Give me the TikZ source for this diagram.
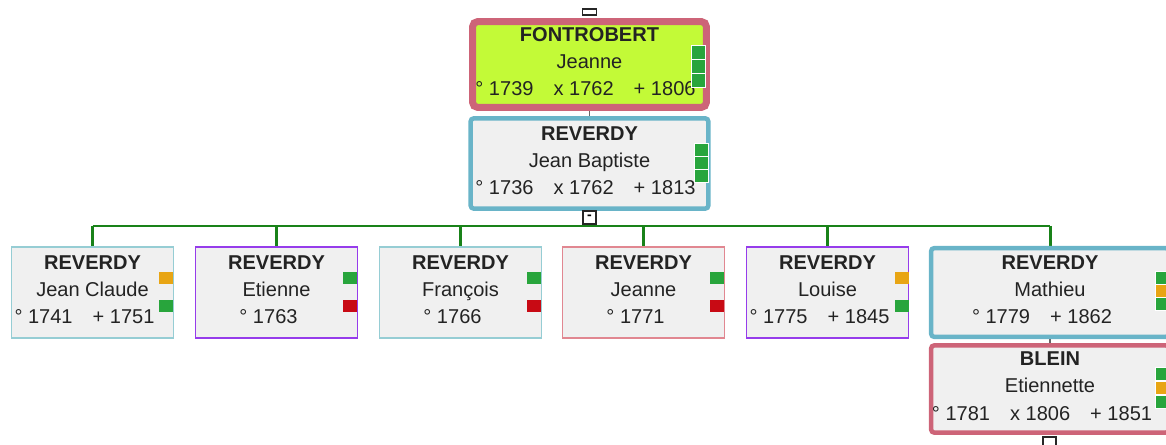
\documentclass[tikz,border=0pt]{standalone}
\usepackage{fontspec}
\setmainfont{Liberation Sans}
\usetikzlibrary{positioning,backgrounds}

\definecolor{famgreen}{RGB}{40,165,60}
\definecolor{famorange}{RGB}{232,165,20}
\definecolor{famred}{RGB}{200,10,20}
\definecolor{linegreen}{RGB}{25,130,25}
\definecolor{tealthick}{RGB}{105,180,200}
\definecolor{tealthin}{RGB}{150,205,212}
\definecolor{purpleline}{RGB}{150,60,235}
\definecolor{pinkthin}{RGB}{225,135,145}
\definecolor{pinkthick}{RGB}{205,100,120}
\definecolor{limefill}{RGB}{195,250,55}
\definecolor{boxgray}{RGB}{240,240,240}
\definecolor{textdark}{RGB}{35,35,35}

\newcommand{\dgap}{\hspace{1em}}
% date line, set a little left of the centre
\newcommand{\dline}[2][0.32cm]{#2\hspace*{#1}}

\tikzset{
  personbox/.style={draw, fill=boxgray, text=textdark, align=center, inner sep=0pt,
    text depth=0.12cm, font=\fontsize{11.4}{15.5}\selectfont},
  kidbox/.style={personbox, draw=#1, line width=0.85pt,
    minimum width=3.25cm, minimum height=1.83cm},
  mainbox/.style={personbox, draw=#1, line width=0.09cm, rounded corners=2pt,
    minimum width=4.76cm, minimum height=1.79cm},
  tagbox/.style={fill=#1, draw=none, inner sep=0pt,
    minimum width=0.28cm, minimum height=0.24cm},
  stackbox/.style={fill=#1, draw=white, line width=0.3pt, inner sep=0pt,
    minimum width=0.28cm, minimum height=0.27cm},
  fold/.style={draw=black!85, fill=white, line width=0.8pt, inner sep=0pt,
    minimum width=0.26cm, minimum height=0.26cm, font=\footnotesize\bfseries},
  link/.style={draw=linegreen, line width=1.7pt},
  wed/.style={draw=black!60, line width=0.6pt}
}

\begin{document}
\begin{tikzpicture}[x=0.02cm, y=-0.02cm]
        \clip (0,0) rectangle (1166,445);
        % Parents
        \node[mainbox=pinkthick, fill=limefill, line width=0.14cm, rounded corners=3pt,
          minimum width=4.68cm, minimum height=1.72cm] (fon) at (589.5,64.5)
          {\textbf{FONTROBERT}\\Jeanne\\\dline[0.16cm]{° 1739\dgap x 1762\dgap + 1806}};
        \node[mainbox=tealthick, minimum height=1.81cm] (jb) at (589.5,163.5)
          {\textbf{REVERDY}\\Jean Baptiste\\\dline[0.16cm]{° 1736\dgap x 1762\dgap + 1813}};
        \node[fold, minimum height=0.12cm, minimum width=0.28cm] (topfold) at (589.5,12) {};
        \node[fold] (jbfold) at (589.5,217.5) {-};
        \coordinate (bus) at (589.5,226);
        % Children
        \node[kidbox=tealthin] (c1) at (92.5,292.5)
          {\textbf{REVERDY}\\Jean Claude\\\dline{° 1741\dgap+ 1751}};
        \node[kidbox=purpleline] (c2) at (276.5,292.5)
          {\textbf{REVERDY}\\Etienne\\\dline{° 1763}};
        \node[kidbox=tealthin] (c3) at (460.5,292.5)
          {\textbf{REVERDY}\\François\\\dline{° 1766}};
        \node[kidbox=pinkthin] (c4) at (643.5,292.5)
          {\textbf{REVERDY}\\Jeanne\\\dline{° 1771}};
        \node[kidbox=purpleline] (c5) at (827.5,292.5)
          {\textbf{REVERDY}\\Louise\\\dline{° 1775\dgap+ 1845}};
        \node[mainbox=tealthick, minimum height=1.78cm] (c6) at (1050,292.5)
          {\textbf{REVERDY}\\Mathieu\\\dline{° 1779\dgap+ 1862}};
        \node[mainbox=pinkthick, minimum height=1.75cm] (blein) at (1050,389)
          {\textbf{BLEIN}\\Etiennette\\\dline{° 1781\dgap x 1806\dgap + 1851}};
        \node[fold] (blfold) at (1049.5,443.5) {};
        % Status tags
        \foreach \y in {52,66,80}
          \node[stackbox=famgreen, minimum height=0.28cm] (ft\y) at (698,\y) {};
        \foreach \y in {150,163,176}
          \node[stackbox=famgreen] (jt\y) at (701,\y) {};
        \foreach \x/\ca/\cb in {166/famorange/famgreen, 350/famgreen/famred,
            534/famgreen/famred, 717/famgreen/famred, 902/famorange/famgreen} {
          \node[tagbox=\ca] (ta\x) at (\x,278) {};
          \node[tagbox=\cb] (tb\x) at (\x,306) {};
        }
        \foreach \y/\c in {278/famgreen, 291/famorange, 304/famgreen}
          \node[stackbox=\c, minimum height=0.25cm] (mt\y) at (1162,\y) {};
        \foreach \y/\c in {374/famgreen, 388/famorange, 402/famgreen}
          \node[stackbox=\c] (bt\y) at (1162,\y) {};
        % Connectors
        \begin{scope}[on background layer]
          \draw[wed] (fon.south) -- (jb.north);
          \draw[wed] (c6.south) -- (blein.north);
          \draw[link] (jbfold.south) -- (bus);
          \draw[link] (c1.north |- bus) -- (c6.north |- bus);
          \foreach \i in {1,...,6}
            \draw[link] (c\i.north |- bus) -- (c\i.north);
        \end{scope}
\end{tikzpicture}
\end{document}
